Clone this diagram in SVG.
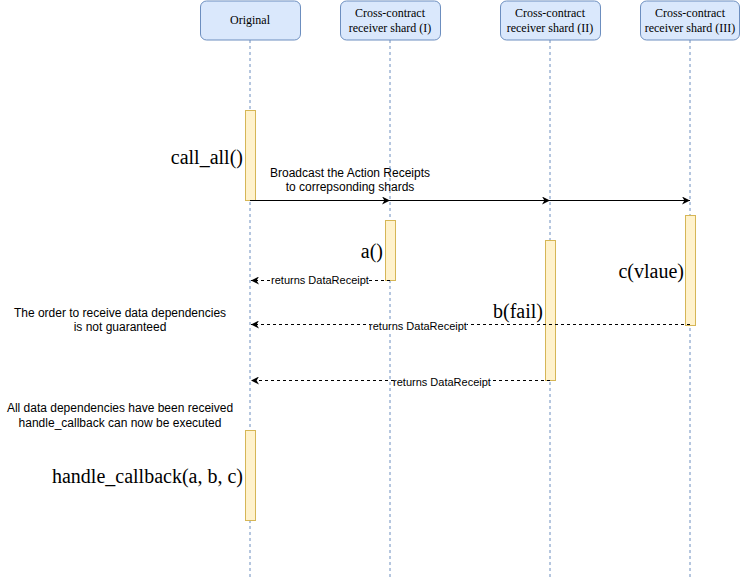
<svg xmlns="http://www.w3.org/2000/svg" width="741" height="581" viewBox="0 0 741 581">
<defs>
<style>
.hdr{fill:#dae8fc;stroke:#6c8ebf;stroke-width:1}
.life{stroke:#6c8ebf;stroke-width:1;stroke-dasharray:3 3;fill:none}
.act{fill:#fff2cc;stroke:#d6b656;stroke-width:1}
.ht{font-family:"Liberation Serif",serif;font-size:12px;fill:#000;text-anchor:middle}
.big{font-family:"Liberation Serif",serif;font-size:20px;fill:#000;text-anchor:end}
.sm{font-family:"Liberation Sans",Arial,sans-serif;font-size:12px;fill:#000;text-anchor:middle}
.lbl{font-family:"Liberation Sans",Arial,sans-serif;font-size:11px;fill:#000;text-anchor:middle}
.msg{stroke:#000;stroke-width:1;fill:none}
.ret{stroke:#000;stroke-width:1;fill:none;stroke-dasharray:3 3}
</style>
<marker id="arr" viewBox="0 0 10 10" refX="10" refY="5" markerWidth="8" markerHeight="8" markerUnits="userSpaceOnUse" orient="auto">
<path d="M0,0 L10,5 L0,10 L3,5 Z" fill="#000"/>
</marker>
</defs>
<rect width="741" height="581" fill="#fff"/>

<g id="original">
<line class="life" x1="250" y1="40" x2="250" y2="578"/>
<rect class="hdr" x="200.5" y="1" width="100" height="39" rx="6"/>
<text class="ht" x="250" y="24">Original</text>
</g>
<g id="shard1">
<line class="life" x1="390" y1="40" x2="390" y2="578"/>
<rect class="hdr" x="340.5" y="1" width="100" height="39" rx="6"/>
<text class="ht" x="390" y="17">Cross-contract</text>
<text class="ht" x="390" y="32">receiver shard (I)</text>
</g>
<g id="shard2">
<line class="life" x1="550" y1="40" x2="550" y2="578"/>
<rect class="hdr" x="500.5" y="1" width="100" height="39" rx="6"/>
<text class="ht" x="550" y="17">Cross-contract</text>
<text class="ht" x="550" y="32">receiver shard (II)</text>
</g>
<g id="shard3">
<line class="life" x1="690" y1="40" x2="690" y2="578"/>
<rect class="hdr" x="640.5" y="1" width="99" height="39" rx="6"/>
<text class="ht" x="690" y="17">Cross-contract</text>
<text class="ht" x="690" y="32">receiver shard (III)</text>
</g>

<g id="act-call-all">
<rect class="act" x="245.5" y="110.5" width="10" height="90"/>
<text class="big" x="243" y="164">call_all()</text>
</g>
<g id="act-a">
<rect class="act" x="385.5" y="220.5" width="10" height="60"/>
<text class="big" x="383" y="258">a()</text>
</g>
<g id="act-b">
<rect class="act" x="545.5" y="240.5" width="10" height="140"/>
<text class="big" x="543" y="318">b(fail)</text>
</g>
<g id="act-c">
<rect class="act" x="685.5" y="215.5" width="10" height="110"/>
<text class="big" x="684" y="278">c(vlaue)</text>
</g>
<g id="act-callback">
<rect class="act" x="245.5" y="430.5" width="10" height="90"/>
<text class="big" x="243" y="483">handle_callback(a, b, c)</text>
</g>

<g id="notes">
<text class="sm" x="120" y="317">The order to receive data dependencies</text>
<text class="sm" x="120" y="331">is not guaranteed</text>
<text class="sm" x="120" y="412">All data dependencies have been received</text>
<text class="sm" x="120" y="427">handle_callback can now be executed</text>
</g>

<g id="connectors">
<line class="msg" x1="250" y1="200.5" x2="390" y2="200.5" marker-end="url(#arr)"/>
<line class="msg" x1="390" y1="200.5" x2="550" y2="200.5" marker-end="url(#arr)"/>
<line class="msg" x1="550" y1="200.5" x2="690" y2="200.5" marker-end="url(#arr)"/>
<text class="sm" x="350" y="177">Broadcast the Action Receipts</text>
<text class="sm" x="350" y="191">to correpsonding shards</text>

<line class="ret" x1="390" y1="280.5" x2="251" y2="280.5" marker-end="url(#arr)"/>
<rect x="272" y="274" width="96" height="13" fill="#fff"/>
<text class="lbl" x="320" y="284">returns DataReceipt</text>

<line class="ret" x1="690" y1="324.5" x2="251" y2="324.5" marker-end="url(#arr)"/>
<rect x="370" y="321" width="97" height="12" fill="#fff"/>
<text class="lbl" x="418" y="330">returns DataReceipt</text>

<line class="ret" x1="550" y1="380.5" x2="251" y2="380.5" marker-end="url(#arr)"/>
<rect x="394" y="376" width="97" height="12" fill="#fff"/>
<text class="lbl" x="442" y="386">returns DataReceipt</text>
</g>
</svg>
